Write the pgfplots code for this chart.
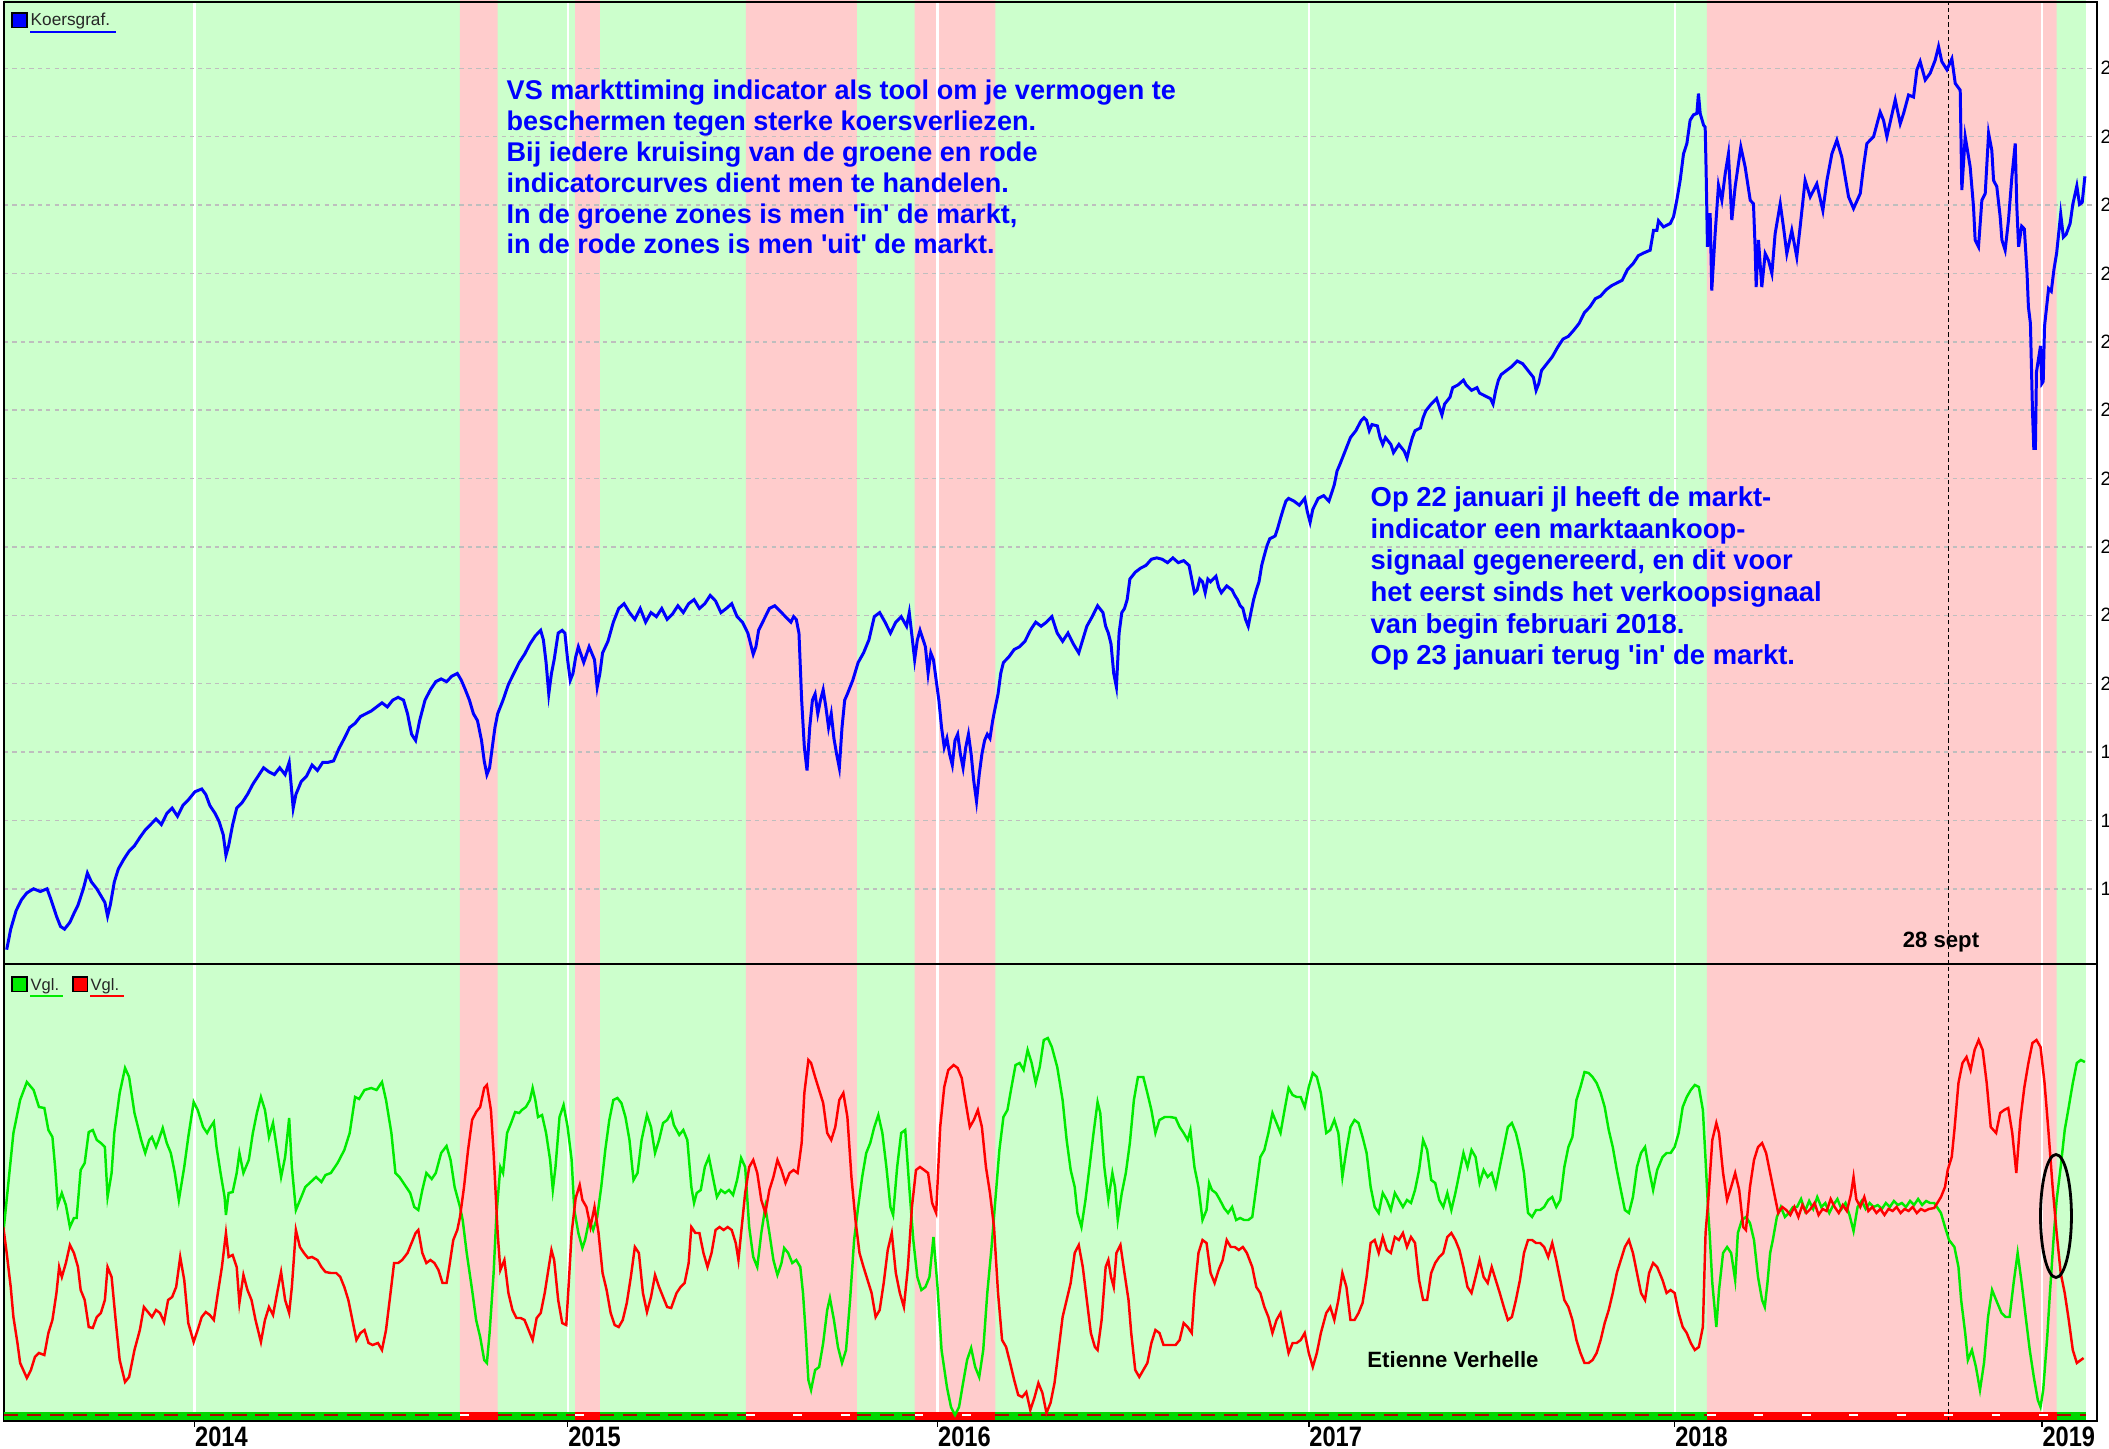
\documentclass[border=0pt]{standalone}
\usepackage{pgfplots}
\pgfplotsset{compat=1.18}
\usepackage{fontspec}
\setmainfont{Liberation Sans}
\newfontfamily\condfont{Liberation Sans}[FakeStretch=0.84]

\definecolor{zgreen}{RGB}{204,255,204}
\definecolor{zred}{RGB}{255,204,204}
\definecolor{lgreen}{RGB}{0,235,0}
\definecolor{lred}{RGB}{255,0,0}
\definecolor{lblue}{RGB}{0,0,255}
\definecolor{stripgreen}{RGB}{0,215,0}
\definecolor{gridgray}{RGB}{190,190,190}

\pgfplotsset{
  panel/.style={
    scale only axis, width=209.3mm,
    xmin=3, xmax=1559,
    set layers,
    axis line style={line width=0.45pt},
    xtick={144.6,422,697,973,1245,1518},
    xmajorgrids,
    x grid style={white, line width=0.6pt, solid},
    /pgf/number format/1000 sep={},
    /pgf/number format/assume math mode=true,
  },
}

\begin{document}
\begin{tikzpicture}

% ---------------- koersgrafiek (S&P 500) ----------------
\begin{axis}[panel, name=top,
  at={(0.4mm,-96.4mm)}, anchor=south west, height=96.2mm,
  ymin=1590, ymax=2997,
  xticklabels={},
  ytick={1700,1800,...,2900},
  ymajorgrids,
  y grid style={gridgray, dash pattern=on 1.2pt off 1.2pt, line width=0.4pt},
  yticklabel pos=right,
  yticklabel style={font=\fontsize{5.5}{6}\selectfont, anchor=west, inner sep=0pt, xshift=0.3mm},
  major tick length=0pt,
]
% zones: in de markt (groen) / uit de markt (rood)
\addplot[on layer=axis background, fill=zgreen, draw=none]
  coordinates {(3,1590)(3,3000)(1551,3000)(1551,1590)} -- cycle;
\addplot[on layer=axis background, const plot, fill=zred, draw=none]
  coordinates {(3,1590)(342,3000)(370,1590)(427.5,3000)(446,1590)(554.6,3000)(637,1590)(680,3000)(740,1590)(1269,3000)(1529,1590)(1551,1590)} -- cycle;

\draw[black, line width=0.45pt, dash pattern=on 1.2pt off 0.9pt] (axis cs:1448.5,1590) -- (axis cs:1448.5,3000);

\addplot[lblue, line width=0.85pt] coordinates {
(5,1611)(8,1641)(12,1668)(16,1684)(20,1694)(25,1700)(30,1696)(35,1700)(38,1684)(42,1660)(45,1645)(48,1641)(52,1651)(55,1664)(58,1676)(62,1700)(65,1723)(68,1710)(72,1700)(75,1690)(78,1680)(80,1660)(82,1676)(85,1710)(88,1729)(92,1743)(96,1755)(100,1763)(104,1775)(108,1786)(112,1794)(116,1802)(120,1794)(124,1810)(128,1818)(132,1806)(136,1822)(140,1830)(145,1842)(150,1846)(153,1838)(156,1822)(160,1810)(163,1798)(166,1779)(168,1749)(170,1763)(173,1794)(176,1818)(180,1826)(184,1838)(188,1853)(192,1865)(196,1877)(200,1871)(204,1867)(208,1877)(212,1867)(215,1885)(218,1818)(220,1838)(224,1857)(228,1865)(232,1881)(236,1873)(240,1885)(244,1885)(248,1887)(252,1905)(256,1920)(260,1936)(264,1942)(268,1952)(272,1956)(276,1960)(280,1966)(284,1972)(288,1966)(292,1976)(296,1980)(300,1976)(303,1956)(306,1926)(309,1917)(312,1946)(316,1976)(320,1991)(324,2003)(328,2007)(332,2003)(336,2011)(340,2015)(343,2005)(346,1991)(349,1976)(352,1956)(355,1946)(358,1917)(360,1887)(362,1867)(364,1877)(366,1907)(368,1936)(370,1956)(374,1976)(378,1999)(382,2015)(386,2031)(390,2043)(394,2058)(398,2070)(402,2078)(404,2064)(406,2031)(408,1985)(410,2015)(412,2035)(415,2074)(418,2078)(420,2074)(422,2035)(424,2005)(426,2015)(428,2039)(430,2054)(434,2031)(438,2054)(442,2035)(444,1995)(446,2015)(448,2045)(452,2062)(456,2090)(460,2110)(464,2117)(468,2104)(472,2094)(476,2110)(480,2090)(484,2104)(488,2098)(492,2110)(496,2094)(500,2102)(504,2114)(508,2104)(512,2117)(516,2123)(520,2110)(524,2117)(528,2129)(532,2121)(536,2104)(540,2110)(544,2117)(548,2098)(552,2090)(556,2074)(560,2043)(562,2054)(564,2078)(568,2094)(572,2110)(576,2114)(580,2106)(584,2098)(588,2090)(590,2098)(592,2094)(594,2074)(596,1976)(598,1907)(600,1873)(602,1936)(604,1976)(606,1985)(608,1956)(610,1976)(612,1991)(614,1966)(616,1936)(618,1956)(620,1920)(622,1897)(624,1877)(626,1936)(628,1976)(630,1985)(634,2005)(638,2031)(642,2045)(646,2064)(650,2098)(654,2104)(658,2090)(662,2074)(666,2090)(670,2098)(674,2084)(676,2104)(678,2070)(680,2035)(682,2064)(684,2078)(688,2054)(690,2015)(692,2045)(694,2035)(696,2005)(698,1976)(700,1936)(702,1907)(704,1920)(706,1897)(708,1881)(710,1917)(712,1926)(714,1897)(716,1877)(718,1907)(720,1926)(722,1897)(724,1857)(726,1828)(728,1867)(730,1897)(732,1917)(734,1926)(736,1920)(738,1946)(740,1966)(742,1985)(744,2015)(746,2031)(750,2039)(754,2050)(758,2054)(762,2062)(766,2078)(770,2090)(774,2084)(778,2090)(782,2098)(786,2074)(790,2062)(794,2074)(798,2058)(802,2045)(804,2058)(808,2084)(812,2098)(816,2114)(820,2104)(822,2084)(824,2074)(826,2058)(828,2015)(830,1995)(832,2074)(834,2104)(836,2110)(838,2123)(840,2153)(844,2163)(848,2169)(852,2173)(856,2182)(860,2184)(864,2182)(868,2177)(872,2184)(876,2177)(880,2180)(884,2173)(886,2153)(888,2133)(890,2137)(892,2153)(894,2149)(896,2133)(898,2153)(900,2149)(904,2157)(906,2141)(908,2133)(912,2143)(916,2137)(918,2129)(920,2123)(922,2114)(924,2110)(926,2094)(928,2084)(930,2104)(932,2123)(934,2137)(936,2149)(938,2173)(940,2188)(942,2202)(944,2212)(948,2216)(950,2228)(952,2242)(954,2255)(956,2267)(958,2271)(962,2267)(966,2261)(970,2271)(972,2251)(974,2236)(976,2255)(980,2271)(984,2275)(988,2267)(992,2291)(994,2311)(996,2320)(1000,2340)(1004,2360)(1008,2370)(1012,2385)(1014,2389)(1016,2385)(1018,2370)(1020,2379)(1024,2377)(1026,2360)(1028,2350)(1030,2360)(1034,2350)(1036,2338)(1040,2350)(1044,2340)(1046,2330)(1048,2346)(1050,2360)(1052,2370)(1056,2374)(1058,2389)(1060,2399)(1064,2409)(1068,2417)(1070,2405)(1072,2393)(1074,2409)(1078,2419)(1080,2433)(1084,2437)(1088,2444)(1090,2437)(1094,2429)(1098,2433)(1100,2425)(1104,2421)(1108,2417)(1110,2409)(1112,2429)(1114,2444)(1116,2452)(1120,2458)(1124,2464)(1128,2472)(1132,2468)(1136,2458)(1140,2448)(1142,2429)(1144,2439)(1146,2458)(1150,2468)(1154,2478)(1158,2492)(1162,2504)(1166,2508)(1170,2517)(1174,2527)(1178,2543)(1182,2551)(1186,2563)(1190,2567)(1194,2576)(1198,2582)(1202,2586)(1206,2590)(1210,2606)(1214,2614)(1218,2626)(1222,2630)
(1226.8,2634)(1229.3,2663)(1231.8,2663)(1233,2677)(1236.7,2668)(1241.7,2673)(1244.2,2683)(1246.6,2707)(1249.1,2736)(1251.6,2775)(1254.1,2790)(1256.5,2824)(1259,2832)(1261.5,2834)(1262.7,2863)(1264,2834)(1266.5,2817)(1267.7,2814)(1268.4,2751)(1269.4,2639)(1271.4,2688)(1272.6,2575)(1275.1,2658)(1277.6,2729)(1280.1,2707)(1282.6,2746)(1285,2775)(1287.5,2678)(1290,2727)(1294.2,2785)(1297.4,2756)(1301.2,2707)(1303.6,2702)(1304.9,2634)(1305.6,2580)(1307.3,2649)(1309.8,2580)(1312.3,2629)(1314.8,2619)(1317.3,2600)(1319.7,2658)(1323.5,2702)(1325.9,2668)(1328.4,2629)(1332.1,2663)(1335.8,2624)(1338.3,2668)(1342,2736)(1345.8,2712)(1350.7,2731)(1355.2,2692)(1358.2,2736)(1361.9,2775)(1365.6,2795)(1369.3,2770)(1374.3,2712)(1378,2695)(1383,2717)(1385.4,2756)(1387.9,2790)(1392.9,2800)(1397.8,2836)(1400.3,2824)(1402.8,2800)(1409,2854)(1412.7,2819)(1415.2,2834)(1418.9,2861)(1422.6,2858)(1425.1,2898)(1427.5,2910)(1431.3,2883)(1435,2893)(1438.7,2912)(1441.2,2932)(1443.6,2910)(1447.4,2898)(1451.1,2914)(1453.6,2878)(1457.3,2868)(1458.5,2722)(1461,2800)(1462.7,2780)(1464.7,2756)(1467.2,2697)(1468.4,2649)(1470.9,2639)(1473.4,2707)(1475.9,2717)(1478.4,2805)(1480.8,2780)(1482.1,2736)(1484.5,2727)(1487,2683)(1488.3,2649)(1490.7,2634)(1493.2,2678)(1495.7,2741)(1498.2,2790)(1499.4,2697)(1500.7,2639)(1503,2669)(1505,2665)(1507,2600)(1508,2551)(1509.5,2527)(1511,2401)(1512,2344)(1513.2,2344)(1514,2456)(1517,2494)(1518,2439)(1519,2442)(1520,2523)(1523,2578)(1525,2574)(1527,2606)(1529,2630)(1532,2687)(1534,2653)(1536,2657)(1539,2673)(1541,2701)(1544,2728)(1546,2701)(1548,2704)(1550,2742)
};
\end{axis}

% ---------------- indicator ----------------
\begin{axis}[panel, name=bot,
  at={(0.4mm,-142.1mm)}, anchor=south west, height=45.7mm,
  ymin=0, ymax=457,
  ytick=\empty,
  xticklabels={2014,2015,2016,2017,2018,2019},
  xtick pos=bottom, tick align=outside,
  major tick length=0.55mm,
  tick style={black, line width=0.45pt},
  xticklabel style={anchor=north west, inner sep=0pt, font=\condfont\bfseries\fontsize{8}{8}\selectfont},
  unbounded coords=jump,
]
\addplot[on layer=axis background, fill=zgreen, draw=none]
  coordinates {(3,0)(3,460)(1551,460)(1551,0)} -- cycle;
\addplot[on layer=axis background, const plot, fill=zred, draw=none]
  coordinates {(3,0)(342,460)(370,0)(427.5,460)(446,0)(554.6,460)(637,0)(680,460)(740,0)(1269,460)(1529,0)(1551,0)} -- cycle;

% signaalbalk onderaan
\addplot[stripgreen, line width=2.2pt] coordinates {(3,5)(1551,5)};
\addplot[lred, line width=2.2pt] coordinates {(342,5)(370,5)(371,nan)(427.5,5)(446,5)(447,nan)(554.6,5)(637,5)(638,nan)(680,5)(740,5)(741,nan)(1269,5)(1529,5)};
\addplot[red!70!black, line width=0.6pt, dash pattern=on 4pt off 2.5pt] coordinates {(3,6)(342,6)(343,nan)(370,6)(427.5,6)(428,nan)(446,6)(554.6,6)(555,nan)(637,6)(680,6)(681,nan)(740,6)(1269,6)(1270,nan)(1529,6)(1551,6)};
\addplot[white, line width=0.6pt, dash pattern=on 2.5pt off 11pt] coordinates {(342,6)(370,6)(371,nan)(427.5,6)(446,6)(447,nan)(554.6,6)(637,6)(638,nan)(680,6)(740,6)(741,nan)(1269,6)(1529,6)};

\draw[black, line width=0.45pt, dash pattern=on 1.2pt off 0.9pt] (axis cs:1448.5,0) -- (axis cs:1448.5,460);

\addplot[lgreen, line width=0.7pt] coordinates {
(2.5,188)(10,288)(15,321)(20,339)(25,331)(29,314)(33,313)(36,291)(39,284)(41,254)(43,216)(46,228)(49,216)(52,194)(55,203)(57,203)(60,251)(63,258)(66,289)(69,291)(72,281)(75,278)(78,274)(80,224)(83,248)(85,288)(89,328)(93,353)(96,344)(100,308)(105,281)(108,268)(111,281)(113,284)(116,274)(118,281)(121,293)(124,278)(127,268)(130,248)(133,221)(137,254)(140,284)(144,319)(147,311)(151,294)(154,288)(156,293)(159,299)(161,274)(164,248)(167,224)(168,206)(170,228)(173,229)(176,248)(178,268)(181,248)(185,261)(188,288)(191,308)(194,324)(197,311)(200,284)(203,298)(206,271)(209,244)(212,264)(215,303)(217,254)(220,211)(224,224)(227,234)(231,239)(235,244)(239,239)(242,246)(246,248)(251,258)(256,271)(260,288)(264,324)(267,322)(271,331)(276,333)(280,331)(284,339)(287,321)(291,288)(294,248)(297,244)(302,234)(305,228)(308,214)(311,211)(314,231)(317,248)(321,242)(324,248)(328,268)(332,275)(335,261)(338,234)(342,214)(344,201)(347,168)(351,131)(354,101)(357,84)(360,61)(362,58)(364,88)(367,148)(369,204)(372,254)(374,248)(377,288)(380,298)(383,309)(386,308)(388,311)(391,314)(394,321)(396,333)(398,321)(400,304)(403,306)(406,288)(409,261)(411,231)(413,254)(416,304)(419,316)(422,294)(425,261)(427,211)(430,188)(433,173)(435,181)(438,201)(441,191)(444,204)(447,234)(450,271)(453,301)(456,321)(459,323)(462,318)(465,304)(468,281)(471,241)(474,248)(477,281)(481,306)(484,294)(487,268)(490,281)(493,298)(496,301)(499,308)(501,296)(505,286)(508,291)(511,281)(514,234)(516,218)(518,228)(521,231)(524,254)(527,264)(530,244)(533,224)(536,231)(539,228)(542,231)(545,226)(548,241)(551,263)(554,254)(557,194)(560,164)(563,154)(566,188)(569,214)(572,188)(575,161)(578,146)(581,158)(583,173)(586,168)(589,158)(592,161)(595,154)(597,128)(599,88)(601,41)(603,31)(606,51)(609,54)(612,78)(615,111)(617,123)(620,101)(623,74)(626,58)(629,71)(632,121)(635,181)(638,214)(641,244)(644,268)(647,278)(650,294)(653,306)(656,288)(659,254)(662,214)(664,206)(667,254)(670,288)(673,291)(676,234)(679,181)(682,144)(685,131)(688,134)(691,144)(694,184)(697,134)(700,71)(704,34)(707,14)(710,6)(713,14)(716,38)(719,61)(722,73)(725,54)(728,44)(731,71)(734,128)(737,171)(740,221)(743,271)(746,304)(749,311)(752,334)(755,356)(758,358)(761,351)(764,371)(767,358)(770,338)(773,354)(776,381)(779,383)(782,374)
(786,354)(790,321)(793,281)(796,251)(799,234)(801,208)(804,194)(807,221)(810,254)(813,288)(816,319)(818,308)(821,254)(824,221)(827,248)(829,234)(831,201)(834,228)(837,248)(840,278)(843,321)(846,344)(850,344)(853,328)(856,311)(859,288)(862,301)(866,304)(870,304)(874,303)(877,294)(880,288)(883,281)(885,291)(888,254)(891,234)(894,201)(897,211)(899,238)(901,231)(904,228)(907,221)(910,213)(913,208)(916,214)(919,201)(922,203)(925,201)(928,201)(931,204)(934,234)(937,264)(940,271)(943,288)(946,308)(949,298)(952,288)(955,311)(958,333)(961,326)(964,324)(967,324)(970,314)(973,334)(976,348)(979,344)(982,328)(986,288)(989,291)(992,301)(995,288)(998,244)(1001,271)(1004,294)(1007,301)(1010,298)(1013,284)(1016,268)(1019,234)(1022,214)(1025,208)(1028,228)(1031,221)(1034,211)(1037,228)(1040,221)(1043,214)(1046,221)(1049,218)(1052,231)(1055,251)(1058,281)(1061,271)(1064,241)(1067,238)(1070,221)(1073,214)(1076,228)(1079,211)(1082,228)(1085,248)(1088,268)(1091,254)(1094,271)(1097,264)(1100,238)(1103,251)(1106,244)(1109,248)(1112,234)(1115,254)(1118,274)(1121,294)(1124,298)(1127,288)(1130,271)(1133,248)(1136,208)(1139,204)(1142,211)(1145,211)(1148,214)(1151,221)(1154,224)(1157,214)(1160,221)(1163,254)(1166,274)(1169,284)(1172,321)(1175,334)(1178,349)(1181,348)(1184,344)(1187,338)(1190,328)(1193,314)(1196,291)(1199,274)(1202,251)(1205,231)(1208,211)(1211,208)(1214,224)(1217,254)(1220,268)(1223,274)(1226,251)(1229,231)(1232,251)(1236,264)(1239,268)(1242,268)(1245,274)(1248,288)(1251,314)(1254,324)(1257,331)(1260,336)(1263,334)(1266,311)(1268,261)(1270,208)(1271,188)(1273,138)(1276,94)(1278,131)(1281,168)(1284,174)(1287,168)(1290,141)(1292,188)(1295,201)(1298,204)(1301,198)(1304,181)(1307,144)(1310,121)(1312,114)(1314,138)(1316,168)(1318,181)(1321,204)(1324,214)(1327,204)(1330,208)(1333,214)
(1336,214)(1339,222)(1342,210)(1345,220)(1348,212)(1351,224)(1354,214)(1357,218)(1360,208)(1363,216)(1366,222)(1369,212)(1372,218)(1375,206)(1378,190)(1381,214)(1384,220)(1387,212)(1390,218)(1393,214)(1396,216)(1399,212)(1402,218)(1405,214)(1408,220)(1411,216)(1414,218)(1417,214)(1420,220)(1423,216)(1426,222)(1429,216)(1432,220)(1435,218)
(1438,218)(1443,208)(1446,194)(1449,181)(1453,174)(1456,154)(1458,121)(1461,88)(1463,61)(1466,71)(1469,54)(1472,31)(1475,58)(1478,104)(1481,131)(1484,121)(1488,108)(1491,104)(1494,104)(1497,138)(1500,168)(1503,138)(1506,104)(1509,71)(1512,44)(1515,21)(1517,14)(1519,31)(1522,84)(1524,128)(1527,188)(1529,221)(1532,254)(1535,291)(1538,314)(1541,338)(1544,358)(1547,361)(1550,359)
};

\addplot[lred, line width=0.7pt] coordinates {
(2.5,194)(5,168)(8,134)(10,104)(13,78)(15,58)(20,43)(23,51)(26,64)(29,68)(33,66)(36,88)(39,101)(42,128)(44,154)(46,144)(49,158)(52,176)(55,168)(58,154)(60,131)(63,121)(66,94)(69,93)(72,104)(75,108)(78,121)(80,154)(83,144)(86,101)(89,61)(93,39)(96,44)(100,71)(104,91)(107,114)(110,109)(113,104)(116,111)(119,108)(122,99)(125,121)(128,124)(131,134)(134,164)(137,141)(140,98)(144,79)(147,91)(150,104)(153,109)(156,106)(159,101)(162,128)(165,154)(168,188)(170,164)(173,166)(176,154)(178,118)(181,146)(184,131)(187,121)(190,101)(194,79)(197,101)(200,114)(203,106)(206,128)(209,149)(212,121)(215,108)(217,134)(220,191)(223,174)(226,168)(229,163)(232,164)(236,161)(239,154)(242,149)(246,148)(250,148)(253,144)(256,134)(259,121)(262,101)(265,81)(268,88)(271,91)(274,78)(277,76)(281,78)(284,71)(287,91)(290,124)(293,158)(296,158)(299,161)(303,168)(306,178)(309,188)(311,191)(314,168)(317,158)(320,161)(323,158)(326,151)(329,138)(332,138)(334,154)(337,181)(340,191)(342,204)(345,234)(348,271)(351,301)(354,309)(357,314)(360,333)(362,336)(365,311)(367,268)(370,188)(372,151)(375,161)(378,128)(381,111)(384,103)(387,103)(390,101)(393,91)(396,81)(399,103)(402,108)(405,128)(408,154)(410,171)(412,161)(415,121)(418,98)(421,96)(423,141)(425,188)(428,223)(431,236)(433,221)(436,214)(439,194)(442,214)(445,188)(448,148)(451,131)(454,108)(457,96)(460,94)(463,101)(466,118)(469,144)(472,174)(475,168)(478,128)(481,109)(484,124)(487,146)(490,134)(493,124)(496,114)(499,113)(503,128)(506,134)(509,138)(512,158)(514,194)(517,188)(520,188)(523,168)(526,154)(529,168)(532,191)(535,194)(538,191)(541,194)(544,191)(547,178)(549,161)(551,188)(554,228)(557,254)(560,261)(563,248)(566,221)(569,208)(572,231)(575,244)(578,261)(581,251)(584,238)(587,248)(590,251)(593,248)(596,278)(598,328)(601,361)(603,358)(606,344)(609,331)(612,318)(615,288)(618,281)(621,294)(624,321)(627,328)(630,304)(633,244)(636,201)(639,168)(642,154)(645,141)(648,128)(651,104)(654,111)(657,138)(660,171)(663,188)(666,148)(669,128)(672,114)(675,154)(678,214)(681,251)(684,254)(687,251)(690,248)(693,218)(696,208)(699,294)(702,334)(705,351)(709,356)(712,353)(715,343)(718,318)(721,294)(724,301)(727,311)(730,294)(733,254)(736,228)(739,194)(742,128)(745,81)(748,74)(751,58)(754,41)(757,26)(760,24)(763,29)(766,11)(769,23)(772,38)(775,28)(778,8)
(781,18)(784,38)(787,71)(790,104)(793,121)(796,138)(799,168)(802,176)(805,154)(808,121)(811,88)(814,74)(816,71)(819,101)(822,154)(824,161)(826,144)(828,134)(830,168)(833,176)(836,148)(839,121)(841,88)(844,51)(847,44)(850,51)(853,58)(856,78)(859,91)(862,88)(865,76)(869,76)(874,76)(877,81)(880,98)(883,94)(886,88)(888,128)(891,168)(894,181)(897,178)(900,148)(903,138)(906,151)(909,161)(912,181)(915,174)(918,174)(921,171)(924,174)(927,168)(931,154)(934,134)(937,128)(940,114)(943,104)(946,88)(949,101)(952,108)(955,88)(958,68)(961,78)(964,78)(967,81)(970,88)(973,68)(976,54)(979,68)(982,88)(986,108)(989,114)(992,101)(995,121)(998,148)(1001,134)(1004,101)(1007,101)(1010,108)(1013,118)(1016,144)(1019,178)(1022,181)(1025,168)(1028,184)(1031,171)(1034,168)(1037,184)(1040,181)(1043,188)(1046,174)(1049,184)(1052,178)(1055,141)(1058,121)(1061,121)(1064,148)(1067,158)(1070,164)(1073,168)(1076,184)(1079,188)(1082,181)(1085,171)(1088,154)(1091,134)(1094,128)(1097,144)(1100,161)(1103,144)(1106,138)(1109,154)(1112,141)(1115,128)(1118,114)(1121,101)(1124,104)(1127,121)(1130,141)(1133,168)(1136,181)(1139,181)(1142,178)(1145,178)(1148,174)(1151,164)(1154,178)(1157,161)(1160,141)(1163,121)(1166,114)(1169,101)(1172,81)(1175,68)(1178,58)(1181,58)(1184,61)(1187,68)(1190,81)(1193,98)(1196,111)(1199,128)(1202,148)(1205,161)(1208,174)(1211,181)(1214,168)(1217,148)(1220,128)(1223,121)(1226,148)(1229,158)(1232,154)(1236,141)(1239,128)(1242,131)(1245,128)(1248,108)(1251,94)(1254,88)(1257,78)(1260,71)(1263,74)(1266,94)(1268,188)(1270,221)(1273,281)(1276,298)(1278,288)(1281,248)(1284,221)(1287,234)(1290,248)(1293,231)(1296,194)(1298,191)(1301,234)(1304,261)(1307,274)(1310,278)(1313,268)(1316,248)(1319,228)(1322,208)(1325,214)
(1328,211)(1331,206)(1334,214)(1337,204)(1340,216)(1343,208)(1346,212)(1349,218)(1352,206)(1355,212)(1358,210)(1361,222)(1364,214)(1367,208)(1370,216)(1373,210)(1376,226)(1378,244)(1380,222)(1383,214)(1386,224)(1389,210)(1392,214)(1395,208)(1398,212)(1401,206)(1404,212)(1407,210)(1410,214)(1413,208)(1416,212)(1419,210)(1422,214)(1425,208)(1428,212)(1431,210)(1434,212)
(1438,213)(1443,224)(1446,234)(1448,251)(1451,264)(1453,291)(1456,338)(1459,358)(1462,364)(1465,351)(1468,371)(1471,381)(1474,371)(1477,338)(1480,294)(1484,288)(1487,308)(1490,311)(1493,313)(1496,288)(1499,248)(1502,301)(1505,334)(1508,358)(1511,378)(1514,381)(1517,374)(1520,338)(1523,288)(1526,234)(1529,188)(1532,148)(1535,128)(1538,101)(1541,71)(1544,58)(1547,61)(1549,63)
};

\draw[black, line width=0.8pt] (axis cs:1528.5,205) ellipse [x radius=11.5, y radius=61.5];
\end{axis}

% ---------------- tekst ----------------
\node[anchor=north west, inner sep=0pt, align=left, text=lblue,
      font=\bfseries\fontsize{7.7}{8.8}\selectfont] at (50.6mm,-7.9mm)
  {VS markttiming indicator als tool om je vermogen te\\
   beschermen tegen sterke koersverliezen.\\
   Bij iedere kruising van de groene en rode\\
   indicatorcurves dient men te handelen.\\
   In de groene zones is men \textquotesingle in\textquotesingle\ de markt,\\
   in de rode zones is men \textquotesingle uit\textquotesingle\ de markt.};

\node[anchor=north west, inner sep=0pt, align=left, text=lblue,
      font=\bfseries\fontsize{7.8}{9.0}\selectfont] at (137.0mm,-48.6mm)
  {Op 22 januari jl heeft de markt-\\
   indicator een marktaankoop-\\
   signaal gegenereerd, en dit voor\\
   het eerst sinds het verkoopsignaal\\
   van begin februari 2018.\\
   Op 23 januari terug \textquotesingle in\textquotesingle\ de markt.};

\node[anchor=base, inner sep=0pt, font=\bfseries\fontsize{6.3}{7}\selectfont] at (194.1mm,-94.7mm) {28 sept};
\node[anchor=base, inner sep=0pt, font=\bfseries\fontsize{6.3}{7}\selectfont] at (145.3mm,-136.7mm) {Etienne Verhelle};

% legenda's
\filldraw[fill=lblue, draw=black, line width=0.35pt] (1.2mm,-1.3mm) rectangle (2.7mm,-2.75mm);
\node[anchor=base west, inner sep=0pt, font=\fontsize{4.9}{5}\selectfont, text=black!85] at (3.0mm,-2.55mm) {Koersgraf.};
\draw[lblue, line width=0.6pt] (3.0mm,-3.2mm) -- (11.6mm,-3.2mm);

\filldraw[fill=lgreen, draw=black, line width=0.35pt] (1.2mm,-97.7mm) rectangle (2.7mm,-99.15mm);
\node[anchor=base west, inner sep=0pt, font=\fontsize{4.7}{5}\selectfont, text=black!85] at (3.0mm,-99.0mm) {Vgl.};
\draw[lgreen, line width=0.6pt] (3.0mm,-99.6mm) -- (6.3mm,-99.6mm);
\filldraw[fill=lred, draw=black, line width=0.35pt] (7.3mm,-97.7mm) rectangle (8.75mm,-99.15mm);
\node[anchor=base west, inner sep=0pt, font=\fontsize{4.7}{5}\selectfont, text=black!85] at (9.0mm,-99.0mm) {Vgl.};
\draw[lred, line width=0.6pt] (9.0mm,-99.6mm) -- (12.4mm,-99.6mm);

\pgfresetboundingbox
\useasboundingbox (0,0) rectangle (210.9mm,-144.9mm);
\end{tikzpicture}
\end{document}
